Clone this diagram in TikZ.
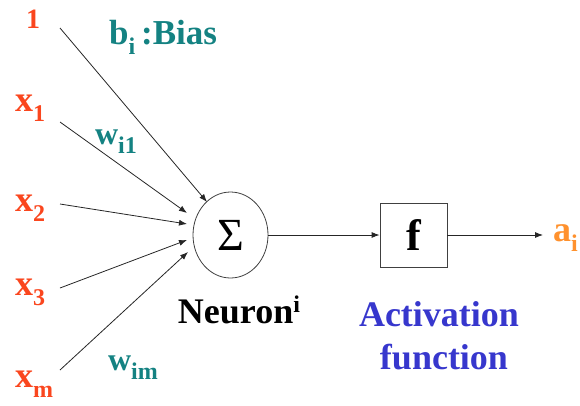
\documentclass[tikz,border=0pt]{standalone}
\usepackage{fontspec}
\setmainfont{Liberation Serif}
\usetikzlibrary{arrows.meta,shapes.geometric}
\definecolor{inred}{RGB}{250,70,30}
\definecolor{outorange}{RGB}{255,145,45}
\definecolor{wteal}{RGB}{20,130,130}
\definecolor{actblue}{RGB}{55,55,205}
\newcommand{\mysub}[1]{\raisebox{-0.28em}{\fontsize{24}{24}\selectfont #1}}
\newcommand{\mysup}[1]{\raisebox{0.32em}{\fontsize{24}{24}\selectfont #1}}
\begin{document}
\begin{tikzpicture}[x=1pt,y=-1pt,
  lbl/.style={inner sep=0pt,font=\fontsize{36}{40}\selectfont\bfseries},
  inlbl/.style={lbl,text=inred},
  wlbl/.style={lbl,text=wteal,font=\fontsize{32}{36}\selectfont\bfseries},
  conn/.style={draw=black!85,line width=0.8pt,-{Latex[length=8pt,width=6pt]}}]
\useasboundingbox (0,0) rectangle (580,405);
% neuron and activation
\node[ellipse,draw=black!75,line width=0.8pt,minimum width=75pt,minimum height=86pt,inner sep=0pt,
  font=\fontsize{46}{46}\selectfont] (sum) at (230.5,235) {Σ};
\node[draw=black!75,line width=0.8pt,minimum width=67pt,minimum height=64pt,inner sep=0pt,
  font=\fontsize{44}{44}\selectfont\bfseries] (f) at (413.5,235) {f};
% inputs
\node[inlbl,font=\fontsize{28}{30}\selectfont\bfseries] (one) at (33,19) {1};
\node[inlbl] (x1) at (30,108) {x\mysub{1}};
\node[inlbl] (x2) at (30,208) {x\mysub{2}};
\node[inlbl] (x3) at (30,292) {x\mysub{3}};
\node[inlbl] (xm) at (34,384) {x\mysub{m}};
% weight labels
\node[wlbl,anchor=west,font=\fontsize{35}{38}\selectfont\bfseries] (bias) at (109,37) {b\mysub{i}\,:Bias};
\node[wlbl] (w1) at (116,142) {w\mysub{i1}};
\node[wlbl] (wm) at (133,368) {w\mysub{im}};
% bottom labels
\node[lbl,text=black,font=\fontsize{36}{40}\selectfont\bfseries] (neur) at (239,310) {Neuron\mysup{i}};
\node[lbl,text=actblue] (act) at (439,314) {Activation};
\node[lbl,text=actblue] (fun) at (444,357) {function};
% output
\node[lbl,text=outorange,anchor=west] (out) at (553,238) {a\mysub{i}};
% connectors
\coordinate (s0) at (60,28);
\coordinate (s1) at (60,122);
\coordinate (s2) at (60,204);
\coordinate (s3) at (60,288);
\coordinate (sm) at (60,370);
\coordinate (e0) at (207,202);
\coordinate (e1) at (187,213);
\coordinate (e2) at (187,224);
\coordinate (e3) at (187,240);
\coordinate (em) at (188,252);
\draw[conn] (s0) -- (e0);
\draw[conn] (s1) -- (e1);
\draw[conn] (s2) -- (e2);
\draw[conn] (s3) -- (e3);
\draw[conn] (sm) -- (em);
\draw[conn] (sum.east) -- (f.west);
\coordinate (oe) at (543,235);
\draw[conn] (f.east) -- (oe);
\end{tikzpicture}
\end{document}
